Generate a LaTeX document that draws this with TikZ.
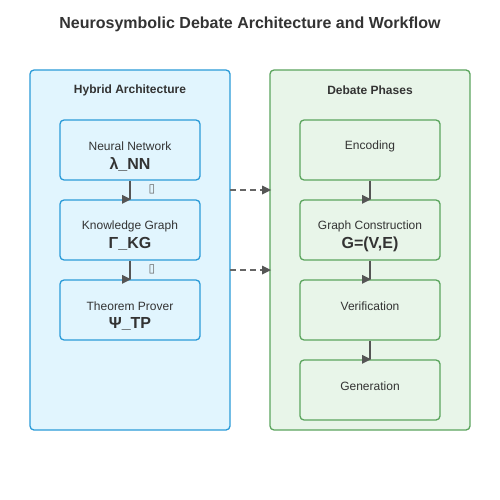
\documentclass[tikz,border=0pt]{standalone}
\usepackage{fontspec}
\setmainfont{Liberation Sans}
\newfontfamily\symfont{DejaVu Sans}
\usetikzlibrary{calc}
\definecolor{titlec}{HTML}{333333}
\definecolor{bluefill}{HTML}{E1F5FE}
\definecolor{bluedraw}{HTML}{2B9BD8}
\definecolor{greenfill}{HTML}{E8F5E9}
\definecolor{greendraw}{HTML}{5BA55E}
\definecolor{arrowc}{HTML}{555555}
\definecolor{dashc}{HTML}{666666}
\tikzset{
  x=1pt, y=-1pt,
  panelblue/.style={draw=bluedraw, fill=bluefill, line width=1.3pt, rounded corners=4pt},
  panelgreen/.style={draw=greendraw, fill=greenfill, line width=1.3pt, rounded corners=4pt},
  boxblue/.style={draw=bluedraw, fill=bluefill, line width=1.3pt, rounded corners=4pt, minimum width=140pt, minimum height=60pt, inner sep=0pt},
  boxgreen/.style={draw=greendraw, fill=greenfill, line width=1.3pt, rounded corners=4pt, minimum width=140pt, minimum height=60pt, inner sep=0pt},
  paneltitle/.style={font=\fontsize{12}{14}\selectfont\bfseries, text=titlec, inner sep=0pt},
  lbl/.style={font=\fontsize{12}{14}\selectfont, text=titlec, inner sep=0pt},
  sym/.style={font=\fontsize{16}{18}\selectfont\bfseries, text=titlec, inner sep=0pt},
  flow/.style={draw=arrowc, line width=1.8pt},
  dashflow/.style={draw=dashc, line width=1.8pt, dash pattern=on 6pt off 4pt},
  tiptri/.style={fill=arrowc},
  tofu/.style={font=\fontsize{12}{14}\selectfont\symfont, text=dashc, inner sep=0pt},
}
% right-pointing marker triangle with its tip at the given point
\newcommand{\rtip}[1]{\fill[tiptri] ($(#1)+(1,0)$) -- ++(-9,-4.5) -- ++(0,9) -- cycle;}
\begin{document}
\begin{tikzpicture}
\useasboundingbox (0,0) rectangle (500,500);
\fill[white] (0,0) rectangle (500,500);
\node[font=\fontsize{16}{19}\selectfont\bfseries, text=titlec, inner sep=0pt] (title) at (250,24) {Neurosymbolic Debate Architecture and Workflow};

% panels
\draw[panelblue] (30,70) rectangle (230,430);
\draw[panelgreen] (270,70) rectangle (470,430);
\node[paneltitle] (ltitle) at (130,90) {Hybrid Architecture};
\node[paneltitle] (rtitle) at (370,90) {Debate Phases};

% left boxes
\node[boxblue] (nn) at (130,150) {};
\node[lbl] at (130,146) {Neural Network};
\node[sym] at (130,164) {λ\_NN};
\node[boxblue] (kg) at (130,230) {};
\node[lbl] at (130,226) {Knowledge Graph};
\node[sym] at (130,244) {Γ\_KG};
\node[boxblue] (tp) at (130,310) {};
\node[lbl] at (130,306) {Theorem Prover};
\node[sym] at (130,324) {Ψ\_TP};

% right boxes
\node[boxgreen] (enc) at (370,150) {};
\node[lbl] at (370,146) {Encoding};
\node[boxgreen] (gc) at (370,230) {};
\node[lbl] at (370,226) {Graph Construction};
\node[sym] at (370,244) {G=(V,E)};
\node[boxgreen] (ver) at (370,310) {};
\node[lbl] at (370,306) {Verification};
\node[boxgreen] (gen) at (370,390) {};
\node[lbl] at (370,386) {Generation};

% left arrows
\draw[flow] (nn.south) -- (kg.north); \rtip{kg.north}
\node[tofu] (t1) at (152,189) {▯};
\draw[flow] (kg.south) -- (tp.north); \rtip{tp.north}
\node[tofu] (t2) at (152,269) {▯};

% right arrows
\draw[flow] (enc.south) -- (gc.north); \rtip{gc.north}
\draw[flow] (gc.south) -- (ver.north); \rtip{ver.north}
\draw[flow] (ver.south) -- (gen.north); \rtip{gen.north}

% dashed cross links
\coordinate (a1) at (230,190);
\coordinate (b1) at (270,190);
\coordinate (a2) at (230,270);
\coordinate (b2) at (270,270);
\draw[dashflow] (a1) -- ($(b1)+(-6,0)$); \rtip{b1}
\draw[dashflow] (a2) -- ($(b2)+(-6,0)$); \rtip{b2}
\end{tikzpicture}
\end{document}
